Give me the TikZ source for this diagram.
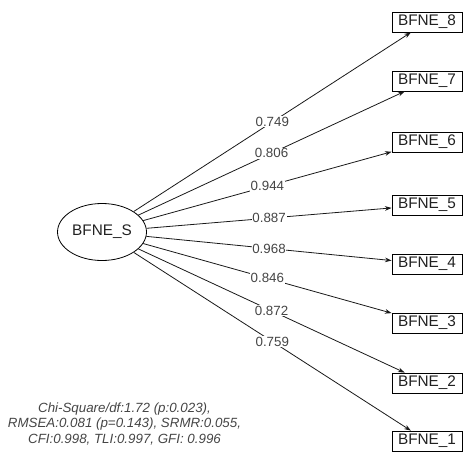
\documentclass[tikz,border=0pt]{standalone}
\usepackage{fontspec}
\setmainfont{Liberation Sans}
\usetikzlibrary{shapes.geometric,arrows.meta}
\begin{document}
\begin{tikzpicture}[x=0.75pt,y=-0.75pt,
  item/.style={draw,line width=0.6pt,minimum width=52.5pt,minimum height=15pt,inner sep=1pt,text=kText,font=\fontsize{11.5}{13}\selectfont},
  factor/.style={draw,ellipse,line width=0.6pt,minimum width=66.75pt,minimum height=42.75pt,inner sep=0pt,text=kText,font=\fontsize{11.5}{13}\selectfont},
  load/.style={draw,line width=0.6pt,color=kLine,-{Stealth[length=5pt,width=3.5pt]}},
  weight/.style={fill=white,inner sep=0.6pt,text=kGrey,font=\fontsize{10}{12}\selectfont},
  fit/.style={align=center,text=kGrey,font=\fontsize{10}{11.6}\selectfont\itshape}]
  % colors
  \definecolor{kText}{rgb}{0.13,0.13,0.13}
  \definecolor{kLine}{rgb}{0.1,0.1,0.1}
  \definecolor{kGrey}{rgb}{0.27,0.27,0.27}
  \useasboundingbox (0,0) rectangle (467,457);
  % latent factor
  \node[factor] (s) at (102,232) {BFNE\_S};
  % items and loadings
  \foreach \i/\y/\w in {8/22/0.749, 7/81/0.806, 6/142/0.944, 5/205/0.887,
                        4/264/0.968, 3/323/0.846, 2/383/0.872, 1/441/0.759}
  {
    \node[item] (b\i) at (427,\y) {BFNE\_\i};
    \draw[load] (s) -- node[weight] {\w} (b\i);
  }
  % fit indices
  \node[fit] (gof) at (124.5,424) {Chi-Square/df:1.72 (p:0.023),\\RMSEA:0.081 (p=0.143), SRMR:0.055,\\CFI:0.998, TLI:0.997, GFI: 0.996};
\end{tikzpicture}
\end{document}
